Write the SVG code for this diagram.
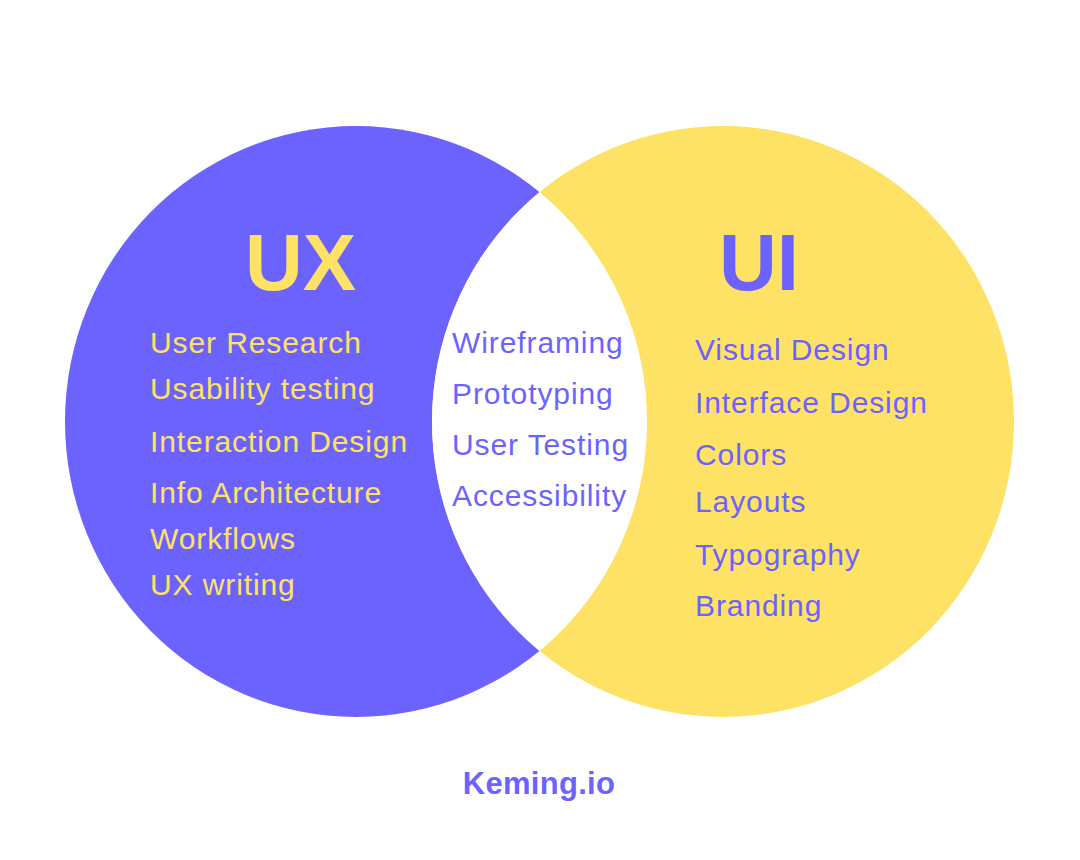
<svg xmlns="http://www.w3.org/2000/svg" width="1080" height="860" viewBox="0 0 1080 860">
<style>
.t{font-family:"Liberation Sans",Arial,Helvetica,sans-serif;font-size:30px;letter-spacing:0.9px}
.y{fill:#FEE265}
.p{fill:#6C63FF}
.big{font-family:"Liberation Sans",Arial,Helvetica,sans-serif;font-size:80px;font-weight:bold}
</style>
<defs>
<clipPath id="leftClip">
<ellipse cx="356" cy="421.5" rx="291" ry="295.5"/>
</clipPath>
</defs>
<rect width="1080" height="860" fill="#FFFFFF"/>
<g id="ux-circle">
<ellipse cx="356" cy="421.5" rx="291" ry="295.5" fill="#6C63FF"/>
</g>
<g id="ui-circle">
<ellipse cx="723" cy="421.5" rx="291" ry="295.5" fill="#FEE265"/>
</g>
<g id="overlap">
<ellipse cx="723" cy="421.5" rx="291" ry="295.5" fill="#FFFFFF" clip-path="url(#leftClip)"/>
</g>
<g id="ux-labels">
<text class="big y" x="245" y="290">UX</text>
<text class="t y" x="150" y="353">User Research</text>
<text class="t y" x="150" y="399">Usability testing</text>
<text class="t y" x="150" y="452">Interaction Design</text>
<text class="t y" x="150" y="503">Info Architecture</text>
<text class="t y" x="150" y="549">Workflows</text>
<text class="t y" x="150" y="595">UX writing</text>
</g>
<g id="overlap-labels">
<text class="t p" x="452" y="353">Wireframing</text>
<text class="t p" x="452" y="404">Prototyping</text>
<text class="t p" x="452" y="455">User Testing</text>
<text class="t p" x="452" y="506">Accessibility</text>
</g>
<g id="ui-labels">
<text class="big p" x="719" y="290">UI</text>
<text class="t p" x="695" y="360">Visual Design</text>
<text class="t p" x="695" y="413">Interface Design</text>
<text class="t p" x="695" y="465">Colors</text>
<text class="t p" x="695" y="512">Layouts</text>
<text class="t p" x="695" y="565">Typography</text>
<text class="t p" x="695" y="616">Branding</text>
</g>
<g id="footer">
<text class="p" x="539" y="794" text-anchor="middle" style="font-family:'Liberation Sans',Arial,sans-serif;font-size:31px;font-weight:bold;letter-spacing:0.3px">Keming.io</text>
</g>
</svg>
